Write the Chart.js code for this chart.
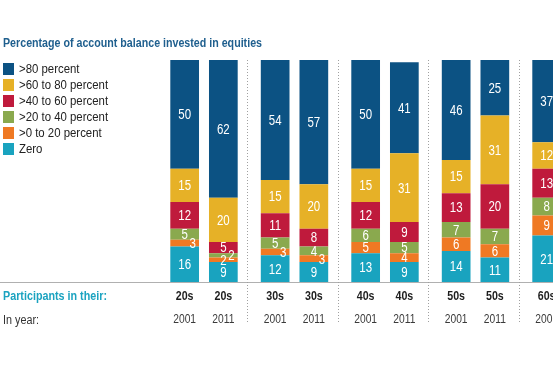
<!DOCTYPE html>
<html>
<head>
<meta charset="utf-8">
<script src="https://cdn.jsdelivr.net/npm/chart.js@4.4.1/dist/chart.umd.min.js"></script>
<style>
body{margin:0;width:553px;height:365px;overflow:hidden;background:#fff;position:relative;
  font-family:'Liberation Sans',Arial,sans-serif}
#wrap{position:absolute;left:0;top:0;width:620px;height:365px}
.fit{position:absolute;left:3px;white-space:nowrap;transform-origin:0 50%}
#title{top:35px;font-size:12.5px;line-height:16px;color:#1f5f8e;font-weight:bold}
#legend{position:absolute;left:3px;top:61px;font-size:12px;color:#222}
.row{height:16px;display:flex;align-items:center;white-space:nowrap}
.sw{width:11px;height:12px;margin-right:5px;flex:none}
.row span.t{display:inline-block;transform:scaleX(0.95);transform-origin:0 50%}
#who{top:288px;font-size:12.5px;line-height:16px;color:#1ba3c0;font-weight:bold}
#yr{top:312px;font-size:12.5px;line-height:16px;color:#333}
</style>
</head>
<body>
<div id="wrap"><canvas id="chart" width="620" height="365"></canvas></div>
<div id="title" class="fit" data-w="259">Percentage of account balance invested in equities</div>
<div id="legend"></div>
<div id="who" class="fit" data-w="104">Participants in their:</div>
<div id="yr" class="fit" data-w="36">In year:</div>
<script>
// age groups on the x axis, two bars (years) per group
const ages = ['20s', '30s', '40s', '50s', '60s'];
const years = ['2001', '2011'];
const bands = ['>80 percent', '>60 to 80 percent', '>40 to 60 percent', '>20 to 40 percent', '>0 to 20 percent', 'Zero'];
const bandColors = ['#0c5283', '#e6b127', '#bf1a3c', '#8aa94e', '#ef7923', '#19a3bf'];

// 2001, one value per age group
const over80_2001 = [50, 54, 50, 46, 37];
const s60to80_2001 = [15, 15, 15, 15, 12];
const s40to60_2001 = [12, 11, 12, 13, 13];
const s20to40_2001 = [5, 5, 6, 7, 8];
const s0to20_2001 = [3, 3, 5, 6, 9];
const zero_2001 = [16, 12, 13, 14, 21];

// 2011 (60s bar is cut off in the picture)
const over80_2011 = [62, 57, 41, 25, null];
const s60to80_2011 = [20, 20, 31, 31, null];
const s40to60_2011 = [5, 8, 9, 20, null];
const s20to40_2011 = [2, 4, 5, 7, null];
const s0to20_2011 = [2, 3, 4, 6, null];
const zero_2011 = [9, 9, 9, 11, null];

const byYear = {
  '2001': [over80_2001, s60to80_2001, s40to60_2001, s20to40_2001, s0to20_2001, zero_2001],
  '2011': [over80_2011, s60to80_2011, s40to60_2011, s20to40_2011, s0to20_2011, zero_2011]
};

// legend
let lg = document.getElementById('legend');
bands.forEach((b, i) => {
  let r = document.createElement('div');
  r.className = 'row';
  r.innerHTML = '<span class="sw" style="background:' + bandColors[i] + '"></span><span class="t">' + b + '</span>';
  lg.appendChild(r);
});

// squeeze the left texts to the condensed widths of the original
document.querySelectorAll('.fit').forEach(el => {
  let w = el.getBoundingClientRect().width;
  el.style.transform = 'scaleX(' + (el.dataset.w / w) + ')';
});

let datasets = [];
years.forEach(y => {
  for (let b = bands.length - 1; b >= 0; b--) {
    datasets.push({
      label: bands[b],
      data: byYear[y][b],
      backgroundColor: bandColors[b],
      stack: y
    });
  }
});

const FONT = "'Liberation Sans',Arial,sans-serif";
const SQUEEZE = 0.82;

function squeezed(ctx, s, x, y) {
  ctx.save();
  ctx.translate(x, y);
  ctx.scale(SQUEEZE, 1);
  ctx.fillText(s, 0, 0);
  ctx.restore();
}

const extras = {
  id: 'extras',
  afterDatasetsDraw(chart) {
    let ctx = chart.ctx;
    let area = chart.chartArea;
    let xs = chart.scales.x;
    ctx.save();
    // baseline
    ctx.strokeStyle = '#b0b0b0';
    ctx.lineWidth = 1;
    ctx.beginPath();
    ctx.moveTo(0, area.bottom + 0.5);
    ctx.lineTo(chart.width, area.bottom + 0.5);
    ctx.stroke();
    // dotted separators between age groups
    ctx.strokeStyle = '#a0a0a0';
    ctx.setLineDash([1, 2]);
    for (let i = 1; i < ages.length; i++) {
      let x = Math.round((xs.getPixelForValue(i - 1) + xs.getPixelForValue(i)) / 2) - 1.5;
      ctx.beginPath();
      ctx.moveTo(x, area.top);
      ctx.lineTo(x, 324);
      ctx.stroke();
    }
    ctx.setLineDash([]);
    // values inside segments
    ctx.fillStyle = '#fff';
    ctx.font = '14px ' + FONT;
    ctx.textAlign = 'center';
    ctx.textBaseline = 'middle';
    chart.data.datasets.forEach((ds, di) => {
      let meta = chart.getDatasetMeta(di);
      meta.data.forEach((el, i) => {
        let v = ds.data[i];
        if (v == null) return;
        let top = Math.max(el.y, area.top);
        let y = (top + el.base) / 2 + 1;
        let x = el.x;
        let next = chart.data.datasets[di + 1];
        let nv = next && next.stack === ds.stack ? next.data[i] : 99;
        if (v <= 3 && nv > 3) x += 8;
        squeezed(ctx, String(v), x, y);
      });
    });
    // age and year under each bar
    years.forEach(y => {
      let di = chart.data.datasets.findIndex(d => d.stack === y);
      let meta = chart.getDatasetMeta(di);
      meta.data.forEach((el, i) => {
        ctx.fillStyle = '#1e1e1e';
        ctx.font = 'bold 13px ' + FONT;
        squeezed(ctx, ages[i], el.x, 296);
        ctx.fillStyle = '#3a3a3a';
        ctx.font = '12.5px ' + FONT;
        squeezed(ctx, y, el.x, 320);
      });
    });
    ctx.restore();
  }
};

new Chart(document.getElementById('chart'), {
  type: 'bar',
  data: { labels: ages, datasets: datasets },
  options: {
    responsive: false,
    animation: false,
    layout: { padding: { left: 158.75, right: 8.75, top: 60, bottom: 83 } },
    datasets: { bar: { categoryPercentage: 0.855, barPercentage: 0.742 } },
    plugins: { legend: { display: false }, tooltip: { enabled: false } },
    scales: {
      x: { display: false, stacked: true },
      y: { display: false, stacked: true, min: 0, max: 100 }
    }
  },
  plugins: [extras]
});
</script>
</body>
</html>
